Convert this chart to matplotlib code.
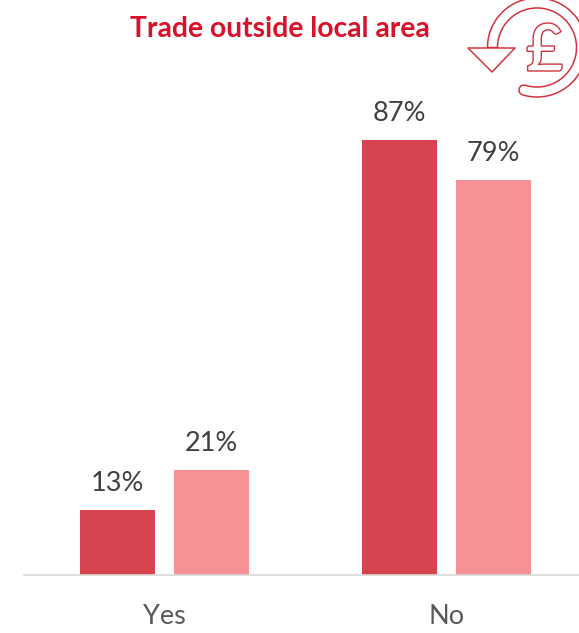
import numpy as np
import matplotlib
matplotlib.use("Agg")
import matplotlib.pyplot as plt
from matplotlib.patches import Polygon, PathPatch
from matplotlib.textpath import TextPath
from matplotlib.font_manager import FontProperties
from matplotlib.transforms import Affine2D

categories = ["Yes", "No"]
series_dark = [13, 87]
series_light = [21, 79]

plt.rcParams["font.family"] = ["Lato", "DejaVu Sans"]

W, H = 579, 633
fig = plt.figure(figsize=(W / 100, H / 100), dpi=100)

# bars, baseline sits at y=575 px
ax = fig.add_axes([24 / W, (H - 575) / H, (W - 24) / W, 575 / H])
x = np.arange(len(categories))
width = 0.266
offset = 0.1667
bars1 = ax.bar(x - offset, series_dark, width, color="#d5444f")
bars2 = ax.bar(x + offset, series_light, width, color="#f69196")
ax.bar_label(bars1, labels=[f"{v}%" for v in series_dark], padding=10, fontsize=19.5, color="#404040")
ax.bar_label(bars2, labels=[f"{v}%" for v in series_light], padding=10, fontsize=19.5, color="#404040")

ax.set_xlim(-0.498, 1.47)
ax.set_ylim(0, 115)
ax.set_xticks(x)
ax.set_xticklabels(categories, fontsize=19.5, color="#595959")
ax.tick_params(axis="x", length=0, pad=21)
ax.set_yticks([])
for s in ["top", "left", "right"]:
    ax.spines[s].set_visible(False)
ax.spines["bottom"].set_color("#d9d9d9")
ax.spines["bottom"].set_linewidth(1.2)
ax.patch.set_alpha(0)

fig.text(280 / W, 1 - 29 / H, "Trade outside local area", ha="center", va="center",
         fontsize=20.3, fontweight="bold", color="#d9122a")

# pound icon, drawn in pixel coordinates
icon = fig.add_axes([0, 0, 1, 1])
icon.set_xlim(0, W)
icon.set_ylim(H, 0)
icon.axis("off")
red = "#d0343f"
cx, cy = 537, 47.5
r_out, r_in = 49.5, 39.5
a = np.radians(np.linspace(180, 180 + 287, 200))
# screen angles, clockwise from the left side
outer = np.c_[cx + r_out * np.cos(a), cy + r_out * np.sin(a)]
inner = np.c_[cx + r_in * np.cos(a[::-1]), cy + r_in * np.sin(a[::-1])]
cap_mid = (outer[-1] + inner[0]) / 2
t = np.linspace(0, np.pi, 20) + a[-1]
cap = np.c_[cap_mid[0] + (r_out - r_in) / 2 * np.cos(t), cap_mid[1] + (r_out - r_in) / 2 * np.sin(t)]
icon.add_patch(Polygon(np.vstack([outer, cap, inner]), closed=True, fc="white", ec=red, lw=1.1))
icon.add_patch(Polygon([(468, 48), (515, 48), (492, 72)], closed=True, fc="white", ec=red, lw=1.1, joinstyle="round"))

tp = TextPath((0, 0), "£", size=50, prop=FontProperties(family="Lato", weight="bold"))
bb = tp.get_extents()
sx = (562 - 527) / bb.width
sy = (71 - 23) / bb.height
tr = Affine2D().translate(-bb.x0, -bb.y0).scale(sx, -sy).translate(527, 71)
icon.add_patch(PathPatch(tr.transform_path(tp), fc="white", ec=red, lw=1.0))

fig.savefig("out.png", dpi=100)
